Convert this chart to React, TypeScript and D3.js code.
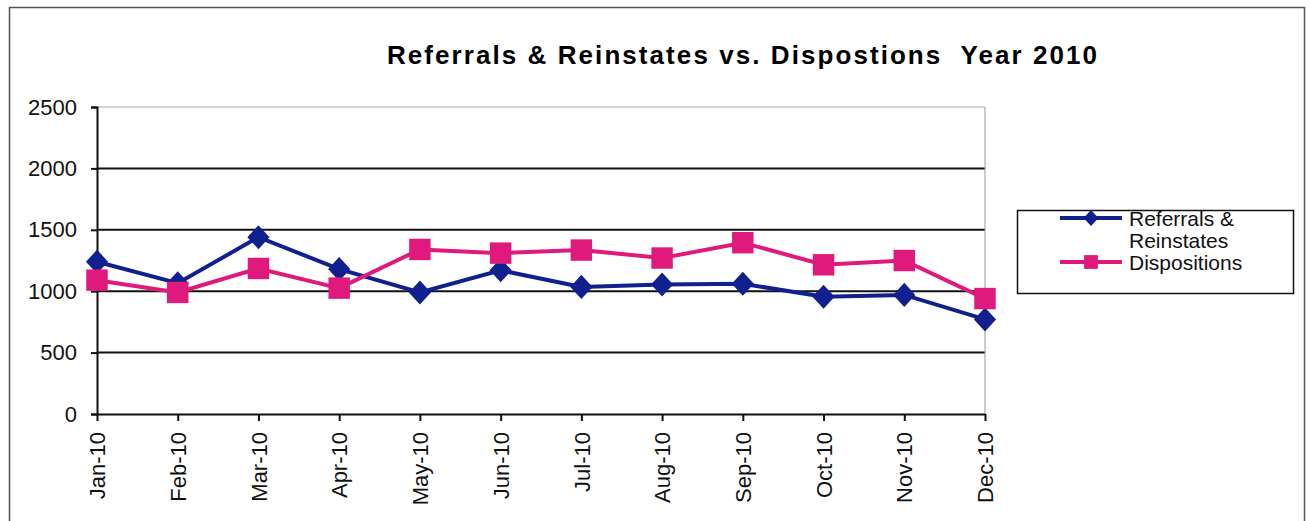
import React, { useEffect, useRef } from 'react';
import * as d3 from 'd3';

const months = ['Jan-10', 'Feb-10', 'Mar-10', 'Apr-10', 'May-10', 'Jun-10', 'Jul-10', 'Aug-10', 'Sep-10', 'Oct-10', 'Nov-10', 'Dec-10'];
const referrals = [1240, 1065, 1440, 1180, 990, 1170, 1035, 1055, 1060, 955, 970, 770];
const dispositions = [1090, 990, 1185, 1025, 1340, 1310, 1335, 1270, 1395, 1215, 1250, 940];
const yTicks = [0, 500, 1000, 1500, 2000, 2500];
const title = 'Referrals & Reinstates vs. Dispostions  Year 2010';

const BLUE = '#10208f';
const PINK = '#e0197c';
const FONT = '"Liberation Sans", Arial, sans-serif';

// Excel-style diamond: a bit taller than wide
const excelDiamond = {
  draw(context: any, size: number) {
    const r = Math.sqrt(size / 2);
    const w = r * 0.92;
    context.moveTo(0, -r);
    context.lineTo(w, 0);
    context.lineTo(0, r);
    context.lineTo(-w, 0);
    context.closePath();
  },
};

export default function App() {
  const svgRef = useRef<SVGSVGElement>(null);

  useEffect(() => {
    if (!svgRef.current) return;
    const svg = d3.select(svgRef.current);
    svg.selectAll('*').remove();

    // outer chart border
    svg.append('rect')
      .attr('x', 9.5).attr('y', 7.5)
      .attr('width', 1295).attr('height', 540)
      .attr('fill', 'white')
      .attr('stroke', '#555').attr('stroke-width', 1.5);

    svg.append('text')
      .attr('x', 387).attr('y', 64)
      .attr('font-family', FONT)
      .attr('font-weight', 'bold')
      .attr('font-size', 26)
      .attr('textLength', 710)
      .attr('lengthAdjust', 'spacing')
      .style('white-space', 'pre')
      .text(title);

    const x = d3.scalePoint<string>().domain(months).range([97, 985]);
    const y = d3.scaleLinear().domain([0, 2500]).range([414, 107]);

    // gridlines
    svg.append('g')
      .selectAll('line')
      .data(yTicks.filter(t => t > 0))
      .enter()
      .append('line')
      .attr('x1', 97).attr('x2', 985)
      .attr('y1', d => y(d)).attr('y2', d => y(d))
      .attr('stroke', d => d === 2500 ? '#aaa' : '#111')
      .attr('stroke-width', d => d === 2500 ? 1 : 2);

    // right plot border
    svg.append('line')
      .attr('x1', 985).attr('x2', 985)
      .attr('y1', 107).attr('y2', 414)
      .attr('stroke', '#999').attr('stroke-width', 1);

    // y axis
    const yAxis = svg.append('g')
      .attr('transform', 'translate(97,0)')
      .call(d3.axisLeft(y).tickValues(yTicks).tickFormat(d3.format('d')).tickSize(6).tickPadding(14));
    yAxis.select('.domain').attr('stroke', '#111').attr('stroke-width', 2);
    yAxis.selectAll('.tick line').attr('stroke', '#111').attr('stroke-width', 2);
    yAxis.selectAll('.tick text')
      .attr('font-family', FONT).attr('font-size', 22).attr('fill', '#111');

    // x axis
    const xAxis = svg.append('g')
      .attr('transform', 'translate(0,414)')
      .call(d3.axisBottom(x).tickSize(7).tickSizeOuter(0));
    xAxis.select('.domain').attr('stroke', '#111').attr('stroke-width', 2);
    xAxis.selectAll('.tick line').attr('stroke', '#111').attr('stroke-width', 2);
    xAxis.selectAll('.tick text')
      .attr('font-family', FONT).attr('font-size', 22).attr('fill', '#111')
      .attr('transform', 'rotate(-90)')
      .attr('text-anchor', 'end')
      .attr('x', -18).attr('y', 0).attr('dy', '0.35em');

    const line = d3.line<number>()
      .x((_, i) => x(months[i]) as number)
      .y(d => y(d));

    const series = [
      { values: referrals, color: BLUE, shape: excelDiamond, size: 290 },
      { values: dispositions, color: PINK, shape: d3.symbolSquare, size: 460 },
    ];

    series.forEach(s => {
      svg.append('path')
        .datum(s.values)
        .attr('d', line)
        .attr('fill', 'none')
        .attr('stroke', s.color)
        .attr('stroke-width', 4);
      svg.append('g')
        .selectAll('path')
        .data(s.values)
        .enter()
        .append('path')
        .attr('transform', (d, i) => `translate(${x(months[i])},${y(d)})`)
        .attr('d', d3.symbol().type(s.shape as any).size(s.size)())
        .attr('fill', s.color);
    });

    // legend
    const lg = svg.append('g');
    lg.append('rect')
      .attr('x', 1017.5).attr('y', 210.5)
      .attr('width', 276).attr('height', 83)
      .attr('fill', 'white').attr('stroke', '#111').attr('stroke-width', 1.5);

    const legendRows = [
      { color: BLUE, shape: excelDiamond, size: 130, ly: 218, lines: ['Referrals &', 'Reinstates'] },
      { color: PINK, shape: d3.symbolSquare, size: 190, ly: 262, lines: ['Dispositions'] },
    ];
    legendRows.forEach(r => {
      lg.append('line')
        .attr('x1', 1060).attr('x2', 1122)
        .attr('y1', r.ly).attr('y2', r.ly)
        .attr('stroke', r.color).attr('stroke-width', 4);
      lg.append('path')
        .attr('transform', `translate(1091,${r.ly})`)
        .attr('d', d3.symbol().type(r.shape as any).size(r.size)())
        .attr('fill', r.color);
      r.lines.forEach((t, i) => {
        lg.append('text')
          .attr('x', 1129).attr('y', r.ly + 8 + i * 22)
          .attr('font-family', FONT).attr('font-size', 21).attr('fill', '#111')
          .text(t);
      });
    });
  }, []);

  return (
    <svg
      ref={svgRef}
      width={1309}
      height={521}
      style={{ position: 'fixed', left: 0, top: 0, background: 'white' }}
    />
  );
}
